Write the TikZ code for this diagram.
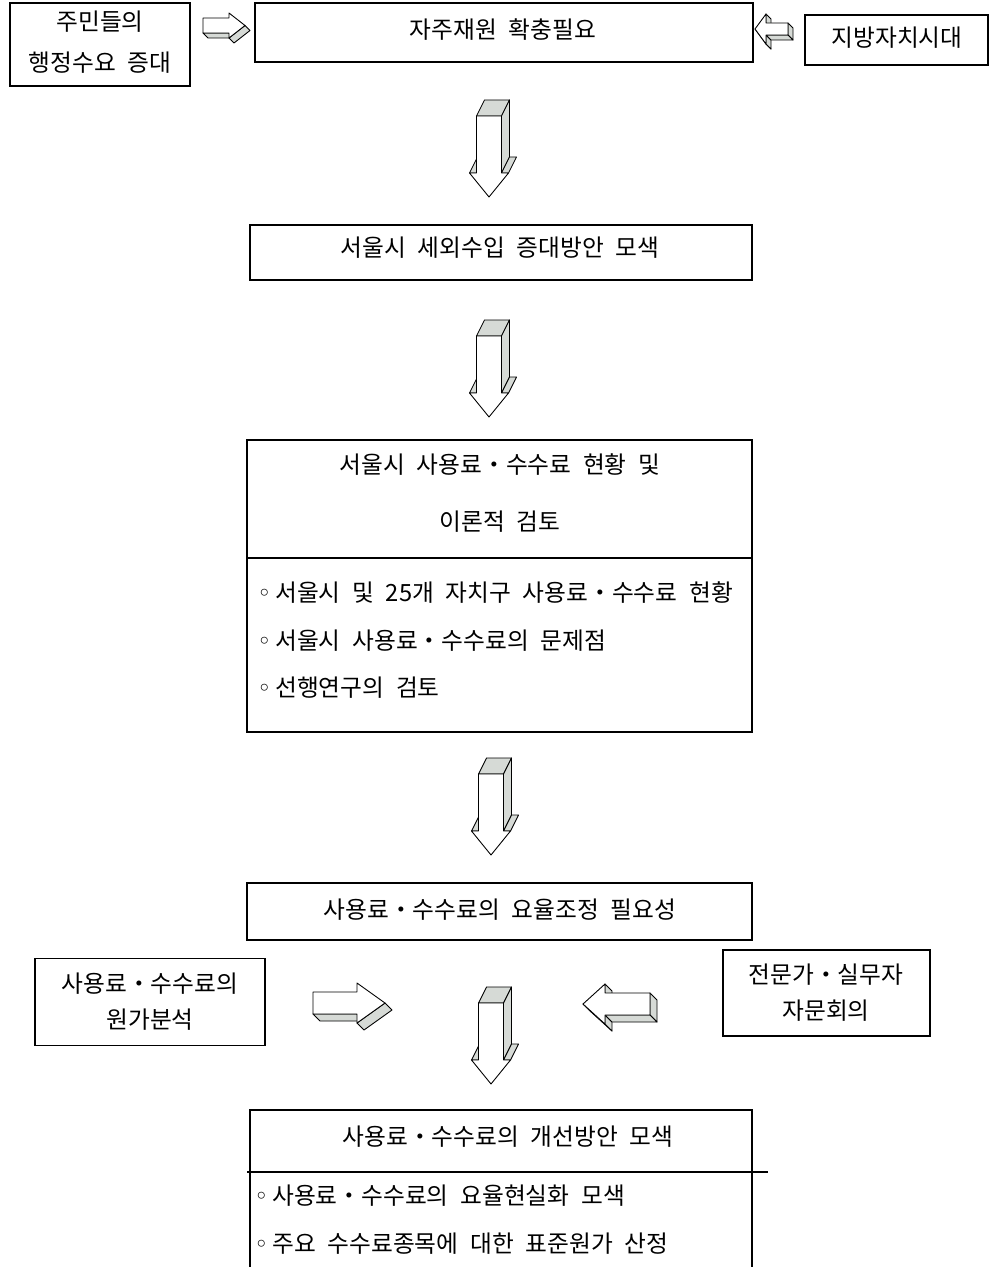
\documentclass[tikz,border=0pt]{standalone}
\usepackage{fontspec}
\setmainfont[WordSpace=2.2]{Noto Sans CJK KR}
\newfontfamily\dvs{DejaVu Sans}
\definecolor{arrgrey}{RGB}{214,218,214}
\tikzset{
  boxline/.style={draw=black,line width=1.1pt,inner sep=0pt},
  sz/.style 2 args={minimum width=#1*0.02cm,minimum height=#2*0.02cm},
  txt/.style={inner sep=0pt,font=\fontsize{13.5pt}{16pt}\selectfont,anchor=center},
  ltxt/.style={txt,anchor=west},
  arrside/.style={fill=arrgrey,draw=black,line width=0.5pt,line join=round},
  arrfront/.style={fill=white,draw=black,line width=0.5pt,line join=round},
}
% down block arrow, origin = front top centre of shaft
\newcommand\DArr[2]{%
  \filldraw[arrside] ({#1-12.5},{#2}) -- ({#1+12.5},{#2}) -- ({#1+20.5},{#2-16}) -- ({#1-4.5},{#2-16}) -- cycle;
  \filldraw[arrside] ({#1+12.5},{#2}) -- ({#1+20.5},{#2-16}) -- ({#1+20.5},{#2+41}) -- ({#1+12.5},{#2+57}) -- cycle;
  \filldraw[arrside] ({#1+12.5},{#2+57}) -- ({#1+19.5},{#2+57}) -- ({#1+27.5},{#2+41}) -- ({#1+20.5},{#2+41}) -- cycle;
  \filldraw[arrside] ({#1-19.5},{#2+57}) -- ({#1-11.5},{#2+41}) -- ({#1-4.5},{#2+41}) -- ({#1-12.5},{#2+57}) -- cycle;
  \filldraw[arrfront] ({#1-12.5},{#2}) -- ({#1+12.5},{#2}) -- ({#1+12.5},{#2+57}) -- ({#1+19.5},{#2+57}) -- ({#1},{#2+81}) -- ({#1-19.5},{#2+57}) -- ({#1-12.5},{#2+57}) -- cycle;
}
% right block arrow: x y shaft-half shaft-len head-half head-len depth ; origin = shaft left centre
\newcommand\RArr[7]{%
  \filldraw[arrside] ({#1},{#2+#3}) -- ({#1+#4},{#2+#3}) -- ({#1+#4+#7},{#2+#3+#7}) -- ({#1+#7},{#2+#3+#7}) -- cycle;
  \filldraw[arrside] ({#1+#4+#6},{#2}) -- ({#1+#4},{#2+#5}) -- ({#1+#4+#7},{#2+#5+#7}) -- ({#1+#4+#6+#7},{#2+#7}) -- cycle;
  \filldraw[arrfront] ({#1},{#2-#3}) -- ({#1+#4},{#2-#3}) -- ({#1+#4},{#2-#5}) -- ({#1+#4+#6},{#2}) -- ({#1+#4},{#2+#5}) -- ({#1+#4},{#2+#3}) -- ({#1},{#2+#3}) -- cycle;
}
% left block arrow: origin = shaft right centre (front)
\newcommand\LArr[7]{%
  \filldraw[arrside] ({#1-#4-#6},{#2}) -- ({#1-#4},{#2+#5}) -- ({#1-#4+#7},{#2+#5+#7}) -- ({#1-#4-#6+#7},{#2+#7}) -- cycle;
  \filldraw[arrside] ({#1-#4},{#2+#3}) -- ({#1-#4},{#2+#5}) -- ({#1-#4+#7},{#2+#5+#7}) -- ({#1-#4+#7},{#2+#3+#7}) -- cycle;
  \filldraw[arrside] ({#1-#4},{#2-#5}) -- ({#1-#4},{#2-#3}) -- ({#1-#4+#7},{#2-#3+#7}) -- ({#1-#4+#7},{#2-#5+#7}) -- cycle;
  \filldraw[arrside] ({#1},{#2-#3}) -- ({#1+#7},{#2-#3+#7}) -- ({#1+#7},{#2+#3+#7}) -- ({#1},{#2+#3}) -- cycle;
  \filldraw[arrside] ({#1},{#2+#3}) -- ({#1+#7},{#2+#3+#7}) -- ({#1-#4+#7},{#2+#3+#7}) -- ({#1-#4},{#2+#3}) -- cycle;
  \filldraw[arrfront] ({#1},{#2-#3}) -- ({#1-#4},{#2-#3}) -- ({#1-#4},{#2-#5}) -- ({#1-#4-#6},{#2}) -- ({#1-#4},{#2+#5}) -- ({#1-#4},{#2+#3}) -- ({#1},{#2+#3}) -- cycle;
}
\begin{document}
\begin{tikzpicture}[x=0.02cm,y=-0.02cm]
\useasboundingbox[fill=white] (0,0) rectangle (992,1267);
% top row
\node[boxline,sz={180}{83}] (A) at (100,44.5) {};
\node[txt] (A1) at (100,22) {주민들의};
\node[txt] (A2) at (100,63) {행정수요 증대};
\node[boxline,sz={498}{59}] (B) at (504,32.5) {};
\node[txt] (B1) at (503,30) {자주재원 확충필요};
\node[boxline,sz={183}{50}] (C) at (896.5,40) {};
\node[txt] (C1) at (897,38) {지방자치시대};
\RArr{203}{25.5}{7.5}{26}{12.5}{16}{5}
\LArr{788}{29}{6}{22}{15}{11}{5}
% arrow 1
\DArr{489}{116}
\node[boxline,sz={502}{55}] (D) at (501,252.5) {};
\node[txt] (D1) at (500,248) {서울시 세외수입 증대방안 모색};
% arrow 2
\DArr{489}{336}
\node[boxline,sz={505}{292}] (E) at (499.5,586) {};
\node[txt] (E1) at (500,465) {서울시 사용료・수수료 현황 및};
\node[txt] (E2) at (500,522) {이론적 검토};
\draw[line width=1.1pt] (E.west |- 0,558) -- (E.east |- 0,558);
\node[ltxt] (E3) at (257,593) {{\dvs ◦}\,서울시 및 25개 자치구 사용료・수수료 현황};
\node[ltxt] (E4) at (257,641) {{\dvs ◦}\,서울시 사용료・수수료의 문제점};
\node[ltxt] (E5) at (257,688) {{\dvs ◦}\,선행연구의 검토};
% arrow 3
\DArr{491}{774}
\node[boxline,sz={505}{57}] (F) at (499.5,911.5) {};
\node[txt] (F1) at (500,910) {사용료・수수료의 요율조정 필요성};
% side boxes
\node[boxline,sz={230}{87}] (G) at (150,1002) {};
\node[txt] (G1) at (150,984) {사용료・수수료의};
\node[txt] (G2) at (150,1020) {원가분석};
\node[boxline,sz={207}{86}] (H) at (826.5,993) {};
\node[txt] (H1) at (826,975) {전문가・실무자};
\node[txt] (H2) at (826,1011) {자문회의};
\RArr{313}{1003}{11}{44}{20}{28}{7}
\LArr{650}{1004}{11}{45}{20}{22}{7}
% arrow 4
\DArr{491}{1003}
% bottom box
\node[boxline,sz={502}{200}] (I) at (501,1210) {};
\node[txt] (I1) at (508,1137) {사용료・수수료의 개선방안 모색};
\draw[line width=1.1pt] (247,1172) -- (768,1172);
\node[ltxt] (I2) at (254,1196) {{\dvs ◦}\,사용료・수수료의 요율현실화 모색};
\node[ltxt] (I3) at (254,1244) {{\dvs ◦}\,주요 수수료종목에 대한 표준원가 산정};
\end{tikzpicture}
\end{document}
